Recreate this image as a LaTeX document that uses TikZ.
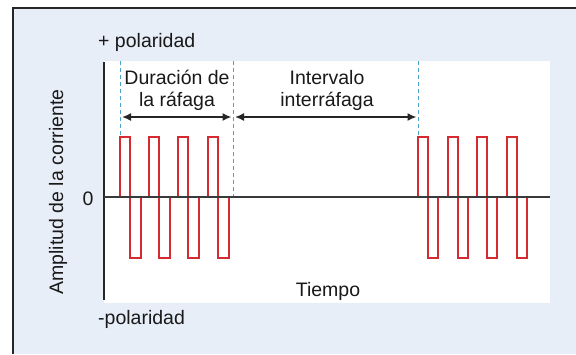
\documentclass[tikz,border=0pt]{standalone}
\usepackage{fontspec}
\setmainfont{Liberation Sans}
\usetikzlibrary{arrows.meta}
\definecolor{bgblue}{HTML}{E7EEF8}
\definecolor{pulsered}{HTML}{D42A30}
\definecolor{dashblue}{HTML}{4AA3C8}
\definecolor{axisgray}{HTML}{3A3A3A}
\tikzset{
  lbl/.style={font=\fontsize{19.5}{21}\selectfont, text=black!90, inner sep=0pt},
  pulse/.style={draw=pulsered, line width=1.8pt, line join=miter},
  guide/.style={draw=dashblue, line width=1pt, dash pattern=on 4pt off 3pt},
  span/.style={draw=black!85, line width=1.6pt, {Latex[length=9pt,width=8pt]}-{Latex[length=9pt,width=8pt]}},
}
\newcommand{\mypulse}[2]{%
  \draw[pulse] (#1,197) -- (#1,137) -- (#1+10,137) -- (#1+10,258) -- (#1+10+#2,258) -- (#1+10+#2,197);}
\begin{document}
\begin{tikzpicture}[x=1pt,y=-1pt]
\useasboundingbox (0,0) rectangle (576,354);
% background and frame
\fill[white] (0,0) rectangle (576,354);
\fill[bgblue] (13,8) rectangle (576,354);
\draw[line width=2.2pt, black!85] (13,354) -- (13,8) -- (576,8);
% plot area
\fill[white] (104,61) rectangle (550,303);
% axes
\coordinate (ytop) at (104,62);
\coordinate (ybot) at (104,300);
\coordinate (zl) at (104,197);
\coordinate (zr) at (550,197);
\draw[line width=1.5pt, black!85] (ytop) -- (ybot);
% pulses
\mypulse{120}{11}
\mypulse{149}{11}
\mypulse{178}{11}
\mypulse{208}{11}
\mypulse{418}{10}
\mypulse{448}{10}
\mypulse{477}{10}
\mypulse{507}{10}
\draw[line width=1.5pt, axisgray] (zl) -- (zr);
% dashed guides
\coordinate (g1t) at (120.5,61);
\coordinate (g1b) at (120.5,137);
\coordinate (g2t) at (233,61);
\coordinate (g2b) at (233,196);
\coordinate (g3t) at (418,61);
\coordinate (g3b) at (418,137);
\draw[guide] (g1t) -- (g1b);
\draw[guide] (g2t) -- (g2b);
\draw[guide] (g3t) -- (g3b);
% spans
\coordinate (a1l) at (122,117);
\coordinate (a1r) at (231.5,117);
\coordinate (a2l) at (235,117);
\coordinate (a2r) at (416.5,117);
\draw[span] (a1l) -- (a1r);
\draw[span] (a2l) -- (a2r);
% labels
\node[lbl, anchor=west] (pp) at (98,42) {+ polaridad};
\node[lbl, anchor=west] (mp) at (98,319) {-polaridad};
\node[lbl] (zero) at (88,199) {0};
\node[lbl, rotate=90] (yl) at (58,192) {Amplitud de la corriente};
\node[lbl] (tiempo) at (328,291) {Tiempo};
\node[lbl, align=center] (dur) at (177,90) {Duración de\\[1pt]la ráfaga};
\node[lbl, align=center] (int) at (327,90) {Intervalo\\[1pt]interráfaga};
\end{tikzpicture}
\end{document}
